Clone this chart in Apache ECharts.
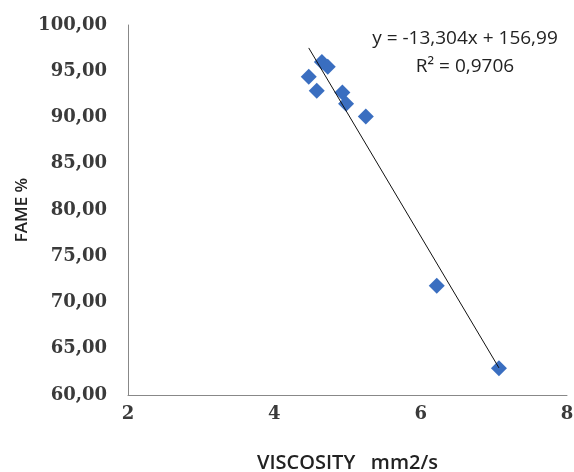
<!DOCTYPE html>
<html>
<head>
<meta charset="utf-8">
<script src="https://cdn.jsdelivr.net/npm/echarts@6/dist/echarts.min.js"></script>
<style>
  html, body { margin: 0; padding: 0; background: #fff; }
  #chart { width: 574px; height: 472px; }
</style>
</head>
<body>
<div id="chart"></div>
<script>
// viscosity (mm2/s) vs FAME %
const viscosity = [4.47, 4.65, 4.73, 4.58, 4.93, 4.98, 5.25, 6.22, 7.07]
const fame = [94.4, 96.0, 95.5, 92.9, 92.7, 91.5, 90.1, 71.8, 62.9]

// linear trendline as printed on the chart
const slope = -13.304
const intercept = 156.99
const eqText = 'y = -13,304x + 156,99'
const r2Text = 'R² = 0,9706'

const chart = echarts.init(document.getElementById('chart'))

const points = viscosity.map((v, i) => [v, fame[i]])
const xLo = Math.min(...viscosity)
const xHi = Math.max(...viscosity)
const trend = [[xLo, slope * xLo + intercept], [xHi, slope * xHi + intercept]]

const tickFont = { fontFamily: 'DejaVu Serif', fontSize: 18, fontWeight: 'bold', color: '#3a3a3a' }
const nameFont = { fontFamily: 'Open Sans', fontWeight: 600, color: '#222' }

const option = {
  animation: false,
  grid: { left: 128, right: 7, top: 25, bottom: 77, outerBoundsMode: 'none' },
  xAxis: {
    type: 'value',
    min: 2,
    max: 8,
    interval: 2,
    name: 'VISCOSITY   mm2/s',
    nameLocation: 'middle',
    nameGap: 58,
    nameMoveOverlap: false,
    nameTextStyle: { ...nameFont, fontSize: 20 },
    splitLine: { show: false },
    axisTick: { show: false },
    axisLine: { lineStyle: { color: '#888' } },
    axisLabel: { ...tickFont, margin: 10 }
  },
  yAxis: {
    type: 'value',
    min: 60,
    max: 100,
    interval: 5,
    name: 'FAME %',
    nameLocation: 'middle',
    nameGap: 97,
    nameMoveOverlap: false,
    nameTextStyle: { ...nameFont, fontSize: 17 },
    splitLine: { show: false },
    axisTick: { show: false },
    axisLine: { show: true, lineStyle: { color: '#888' } },
    axisLabel: {
      ...tickFont,
      margin: 21,
      formatter: v => v.toFixed(2).replace('.', ',')
    }
  },
  graphic: [
    {
      type: 'text',
      x: 465,
      y: 39,
      style: { text: eqText, fontFamily: 'Open Sans', fontSize: 19, fill: '#222', align: 'center', verticalAlign: 'middle' }
    },
    {
      type: 'text',
      x: 465,
      y: 67,
      style: { text: r2Text, fontFamily: 'Open Sans', fontSize: 19, fill: '#222', align: 'center', verticalAlign: 'middle' }
    }
  ],
  series: [
    {
      type: 'line',
      data: trend,
      symbol: 'none',
      lineStyle: { color: '#111', width: 1 },
      z: 3
    },
    {
      type: 'scatter',
      data: points,
      symbol: 'diamond',
      symbolSize: 16,
      itemStyle: { color: '#3A6EC0', opacity: 1 },
      z: 2
    }
  ]
}

chart.setOption(option)
</script>
</body>
</html>
